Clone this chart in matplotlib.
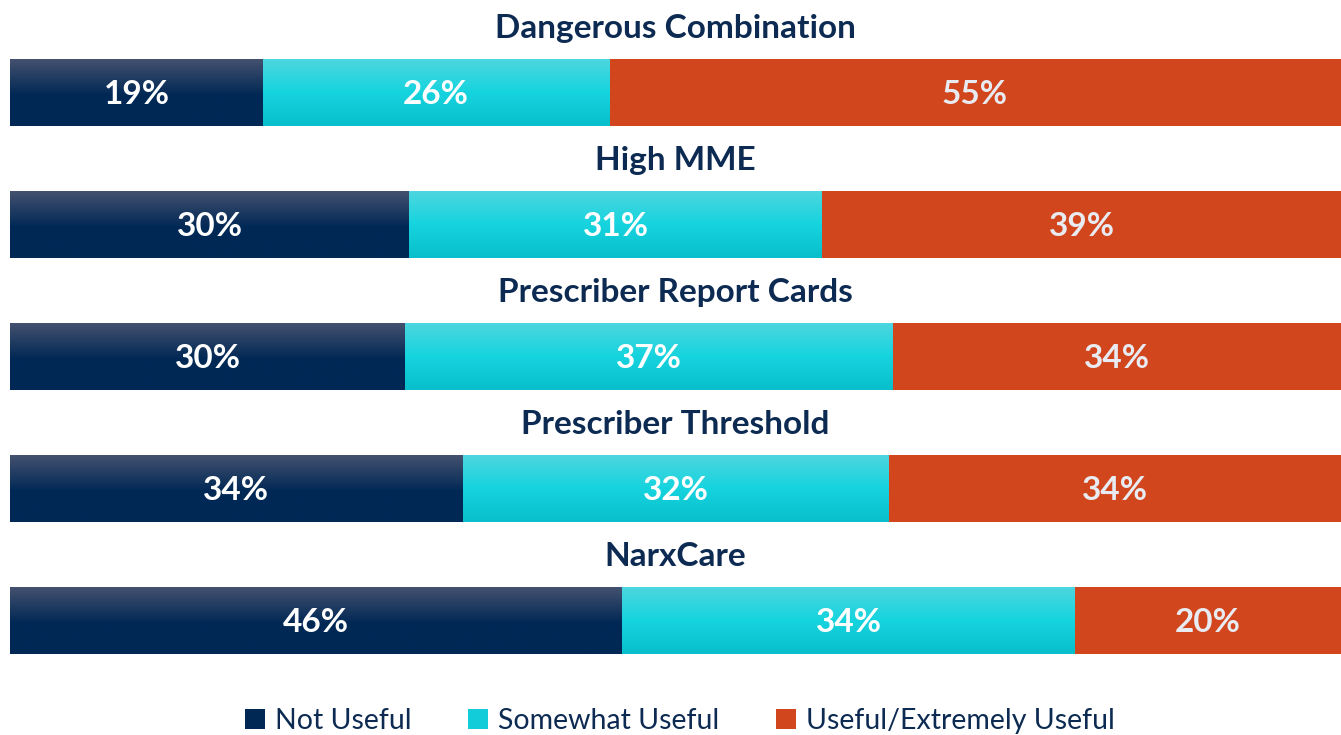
import numpy as np
import matplotlib.pyplot as plt
from matplotlib.colors import LinearSegmentedColormap
from matplotlib.patches import Patch

# data
categories = ["Dangerous Combination", "High MME", "Prescriber Report Cards",
              "Prescriber Threshold", "NarxCare"]
not_useful = [19, 30, 30, 34, 46]
somewhat_useful = [26, 31, 37, 32, 34]
useful = [55, 39, 34, 34, 20]
series_names = ["Not Useful", "Somewhat Useful", "Useful/Extremely Useful"]

navy = "#002855"
cyan = "#12cdd9"
orange = "#d2461e"
title_color = "#0d2b52"

plt.rcParams['font.family'] = ['Lato', 'DejaVu Sans']

fig = plt.figure(figsize=(13.41, 7.35), dpi=100)
ax = fig.add_axes([10 / 1341, 0, 1331 / 1341, 1])

# vertical gradients like the original slide fills
grad = np.linspace(0, 1, 256).reshape(-1, 1)
navy_cmap = LinearSegmentedColormap.from_list(
    "navy", [(0, "#465270"), (0.55, "#002855"), (1, "#002855")])
cyan_cmap = LinearSegmentedColormap.from_list(
    "cyan", [(0, "#4fd6de"), (0.5, "#16d4df"), (1, "#08bfcb")])

rows = np.arange(len(categories))
totals = np.array(not_useful) + np.array(somewhat_useful) + np.array(useful)
bar_h = 0.508
left = np.zeros(len(categories))
series = [not_useful, somewhat_useful, useful]
colors = [navy, cyan, orange]
cmaps = [navy_cmap, cyan_cmap, None]
label_colors = ["white", "white", "#e8ebf1"]

for vals, col, cm, lc in zip(series, colors, cmaps, label_colors):
    widths = np.array(vals) / totals
    bars = ax.barh(rows, widths, left=left, height=bar_h, color=col,
                   edgecolor="none", zorder=2)
    for b, v in zip(bars, vals):
        x0, y0 = b.get_x(), b.get_y()
        w, h = b.get_width(), b.get_height()
        if cm is not None:
            img = ax.imshow(grad, cmap=cm, aspect="auto", zorder=3,
                            extent=[x0, x0 + w, y0 + h, y0],
                            interpolation="bilinear")
            img.set_clip_path(b)
        ax.text(x0 + w / 2, y0 + h / 2 + 0.012, f"{v}%", ha="center",
                va="center", color=lc, fontsize=24, fontweight="bold",
                zorder=4)
    left = left + widths

for r, name in zip(rows, categories):
    ax.text(0.5, r - 0.485, name, ha="center", va="center", color=title_color,
            fontsize=24, fontweight="bold")

ax.set_xlim(0, 1)
ax.set_ylim((735 - 92.5) / 132, -92.5 / 132)
ax.axis("off")

handles = [Patch(facecolor=navy_cmap(0.6), label=series_names[0]),
           Patch(facecolor=cyan, label=series_names[1]),
           Patch(facecolor=orange, label=series_names[2])]
fig.legend(handles=handles, loc="center", bbox_to_anchor=(680 / 1341, 14 / 735),
           ncol=3, frameon=False, fontsize=20.5, handlelength=0.7,
           handleheight=0.7, handletextpad=0.35, columnspacing=2.0,
           labelcolor=title_color)

fig.savefig("out.png", dpi=100)
